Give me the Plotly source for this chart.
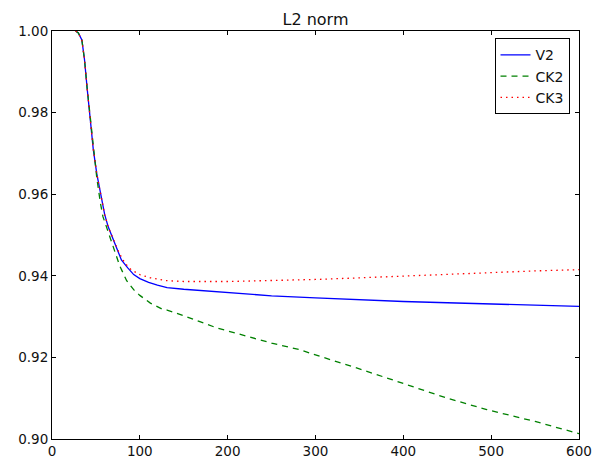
import plotly.graph_objects as go

# ---- data ----
v2_x = [27, 30, 34, 37, 40, 44, 47, 51, 56, 60, 64, 68, 70, 74, 79, 86, 93, 100, 110, 120, 131,
        150, 170, 200, 250, 300, 350, 400, 450, 500, 550, 600]
v2_y = [1.0, 0.9995, 0.9978, 0.993, 0.986, 0.978, 0.971, 0.965, 0.9595, 0.955, 0.952, 0.9498, 0.9488,
        0.9462, 0.9439, 0.942, 0.9403, 0.9393, 0.9384, 0.9377, 0.9371,
        0.9367, 0.9364, 0.9358, 0.9351, 0.9346, 0.9341, 0.9337, 0.9334, 0.9331, 0.9328, 0.9325]

ck2_x = [27, 30, 34, 37, 40, 44, 47, 51, 55, 58, 62, 67, 72, 77, 85, 93, 100, 112, 125, 131,
         150, 170, 188, 200, 250, 282, 300, 350, 392, 450, 495, 550, 600]
ck2_y = [1.0, 0.9995, 0.9978, 0.993, 0.986, 0.978, 0.971, 0.964, 0.958, 0.9545, 0.952, 0.9488, 0.9455,
         0.9425, 0.9388, 0.9366, 0.9352, 0.9333, 0.9319, 0.9316,
         0.9302, 0.9287, 0.9272, 0.9265, 0.9235, 0.9219, 0.9206, 0.9172, 0.9141, 0.9100, 0.9072,
         0.9043, 0.9013]

ck3_x = [27, 30, 34, 37, 40, 44, 47, 51, 56, 60, 64, 68, 72, 76, 83, 90, 100, 112, 131,
         150, 200, 250, 300, 350, 396, 450, 500, 550, 600]
ck3_y = [1.0, 0.9995, 0.9978, 0.993, 0.986, 0.978, 0.971, 0.965, 0.9595, 0.955, 0.952, 0.9500, 0.948,
         0.9458, 0.9431, 0.9415, 0.9403, 0.9395, 0.9388,
         0.9386, 0.9386, 0.9388, 0.9391, 0.9395, 0.9399, 0.9404, 0.9408, 0.9412, 0.9415]

x_ticks = [0, 100, 200, 300, 400, 500, 600]
y_ticks = [0.90, 0.92, 0.94, 0.96, 0.98, 1.00]
y_tick_text = ["0.90", "0.92", "0.94", "0.96", "0.98", "1.00"]

FONT = "DejaVu Sans"

fig = go.Figure()
fig.add_trace(go.Scatter(x=v2_x, y=v2_y, mode="lines", name="V2",
                         line=dict(color="#0000ff", width=1.3)))
fig.add_trace(go.Scatter(x=ck2_x, y=ck2_y, mode="lines", name="CK2",
                         line=dict(color="#008000", width=1.3, dash="6px,5px")))
fig.add_trace(go.Scatter(x=ck3_x, y=ck3_y, mode="lines", name="CK3",
                         line=dict(color="#ff0000", width=1.3, dash="1.5px,4px")))

axis_common = dict(showline=True, linecolor="black", linewidth=1, mirror="ticks",
                   ticks="inside", ticklen=4, tickcolor="black", showgrid=False,
                   zeroline=False, automargin=False,
                   tickfont=dict(family=FONT, size=13.5, color="#111111"))

fig.update_layout(
    width=607, height=462,
    margin=dict(l=52, r=28, t=31, b=23, autoexpand=False),
    paper_bgcolor="white", plot_bgcolor="white",
    title=dict(text="L2 norm", x=(52 + 579) / 2 / 607, xanchor="center", y=1 - 19.5 / 462,
               yanchor="middle", font=dict(family=FONT, size=16, color="#111111")),
    xaxis=dict(range=[0, 600], tickvals=x_ticks, **axis_common),
    yaxis=dict(range=[0.90, 1.00], tickvals=y_ticks, ticktext=y_tick_text, **axis_common),
    legend=dict(x=0.982, y=0.982, xanchor="right", yanchor="top",
                bgcolor="white", bordercolor="black", borderwidth=1,
                font=dict(family=FONT, size=14, color="#111111"),
                itemwidth=30, tracegroupgap=0),
    showlegend=True,
)

fig.write_html("out.html", config={"displayModeBar": False},
               post_script="document.body.style.margin='0';document.body.style.overflow='hidden';")
